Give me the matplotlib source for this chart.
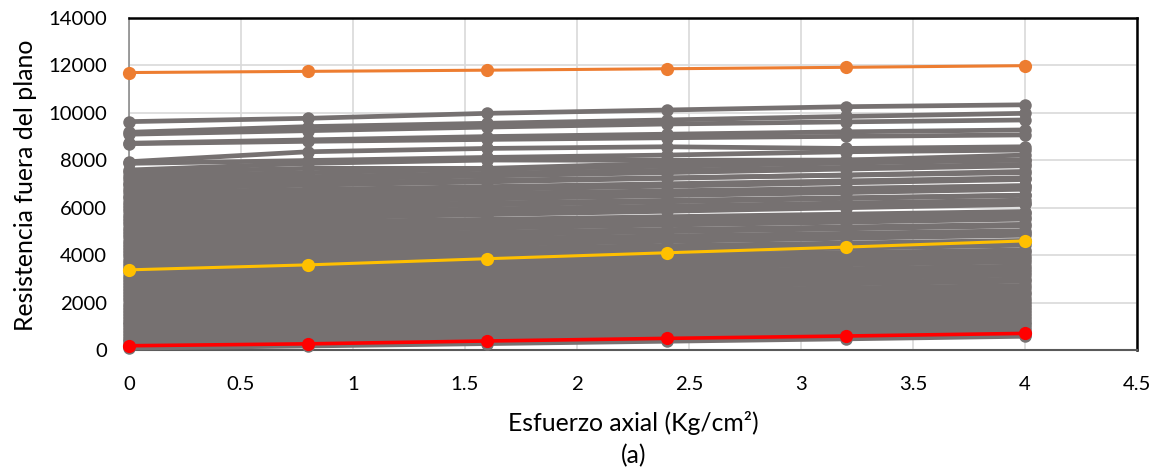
import matplotlib
matplotlib.use("Agg")
import matplotlib.pyplot as plt

plt.rcParams['font.family'] = ['Lato', 'DejaVu Sans']

# x positions (axial stress, kg/cm2)
esfuerzo = [0, 0.8, 1.6, 2.4, 3.2, 4.0]

# highlighted series
serie_naranja = [11700, 11750, 11800, 11860, 11920, 11990]
serie_amarilla = [3380, 3590, 3850, 4100, 4340, 4600]
serie_roja = [180, 260, 380, 490, 590, 700]

# upper, visibly separated grey series
gris_superior = [
    [9630, 9770, 9980, 10120, 10260, 10340],
    [9180, 9420, 9560, 9700, 9850, 9980],
    [9100, 9250, 9400, 9530, 9620, 9700],
    [8720, 8860, 9000, 9100, 9200, 9280],
    [8700, 8800, 8880, 8950, 9010, 9070],
    [7940, 8360, 8500, 8570, 8500, 8570],
    [7870, 7990, 8120, 8220, 8360, 8430],
    [7590, 7870, 8010, 8000, 8010, 8220],
    [7500, 7660, 7660, 7870, 8010, 8010],
]

# dense band of grey series
gris_banda = [
    [7350, 7480, 7620, 7750, 7880, 8010],
    [7200, 7310, 7450, 7580, 7700, 7830],
    [7050, 7200, 7340, 7480, 7630, 7770],
    [6950, 7050, 7160, 7260, 7370, 7480],
    [6800, 6950, 7090, 7240, 7380, 7530],
    [6650, 6770, 6890, 7010, 7130, 7260],
    [6500, 6640, 6770, 6910, 7050, 7190],
    [6400, 6500, 6610, 6710, 6820, 6930],
    [6250, 6380, 6520, 6650, 6790, 6920],
    [6100, 6240, 6370, 6510, 6640, 6780],
    [5980, 6090, 6200, 6310, 6420, 6530],
    [5850, 5980, 6120, 6250, 6390, 6520],
    [5700, 5820, 5950, 6070, 6200, 6320],
    [5560, 5690, 5810, 5940, 6060, 6190],
    [5420, 5560, 5710, 5850, 6000, 6140],
    [5300, 5410, 5510, 5620, 5730, 5840],
    [5150, 5270, 5400, 5520, 5640, 5770],
    [5020, 5140, 5250, 5370, 5490, 5610],
    [4880, 5010, 5140, 5270, 5390, 5520],
    [4750, 4860, 4970, 5080, 5190, 5300],
    [4600, 4730, 4860, 4990, 5110, 5240],
    [4480, 4590, 4700, 4810, 4920, 5030],
    [4340, 4460, 4580, 4700, 4820, 4940],
    [4200, 4330, 4450, 4580, 4710, 4840],
    [4080, 4190, 4290, 4400, 4510, 4620],
    [3950, 4070, 4180, 4300, 4420, 4540],
    [3800, 3920, 4050, 4170, 4290, 4420],
    [3670, 3780, 3890, 4000, 4110, 4220],
    [3540, 3660, 3780, 3900, 4010, 4130],
    [3400, 3510, 3630, 3740, 3850, 3970],
    [3280, 3390, 3500, 3610, 3720, 3830],
    [3140, 3260, 3370, 3490, 3600, 3720],
    [3000, 3110, 3220, 3330, 3430, 3540],
    [2880, 2990, 3100, 3210, 3320, 3430],
    [2740, 2850, 2950, 3060, 3170, 3270],
    [2610, 2720, 2830, 2940, 3050, 3160],
    [2480, 2580, 2680, 2790, 2890, 2990],
    [2350, 2460, 2570, 2680, 2790, 2900],
    [2220, 2320, 2420, 2520, 2620, 2720],
    [2090, 2200, 2300, 2410, 2510, 2620],
    [1960, 2060, 2160, 2260, 2360, 2460],
    [1830, 1930, 2040, 2140, 2250, 2350],
    [1700, 1800, 1900, 2000, 2100, 2200],
    [1580, 1680, 1780, 1880, 1980, 2080],
    [1450, 1550, 1650, 1750, 1850, 1950],
    [1320, 1420, 1510, 1610, 1700, 1800],
    [1200, 1300, 1400, 1500, 1600, 1700],
    [1080, 1170, 1270, 1360, 1460, 1550],
    [960, 1060, 1160, 1260, 1350, 1450],
    [840, 930, 1030, 1120, 1220, 1310],
    [720, 810, 910, 1000, 1100, 1190],
    [600, 700, 790, 890, 980, 1080],
    [480, 570, 670, 760, 860, 950],
    [370, 460, 560, 650, 750, 840],
    [260, 350, 440, 540, 630, 720],
    [150, 240, 340, 430, 530, 620],
    [80, 170, 270, 370, 470, 580],
]

x_ticks = [0, 0.5, 1, 1.5, 2, 2.5, 3, 3.5, 4, 4.5]
x_tick_labels = ["0", "0.5", "1", "1.5", "2", "2.5", "3", "3.5", "4", "4.5"]
y_ticks = [0, 2000, 4000, 6000, 8000, 10000, 12000, 14000]

GRIS = '#767171'
NARANJA = '#ED7D31'
AMARILLO = '#FFC000'
ROJO = '#FF0000'

fig = plt.figure(figsize=(11.6, 4.71), dpi=100)
ax = fig.add_axes([129/1160, 1 - 350/471, (1137-129)/1160, (350-18)/471])

for serie in gris_banda + gris_superior:
    ax.plot(esfuerzo, serie, color=GRIS, lw=3.4, marker='o', ms=9,
            markeredgewidth=0, clip_on=False, zorder=3,
            solid_capstyle='butt')

ax.plot(esfuerzo, serie_roja, color=ROJO, lw=2.6, marker='o', ms=9.5,
        markeredgewidth=0, clip_on=False, zorder=4)
ax.plot(esfuerzo, serie_amarilla, color=AMARILLO, lw=2.2, marker='o', ms=9.5,
        markeredgewidth=0, clip_on=False, zorder=4)
ax.plot(esfuerzo, serie_naranja, color=NARANJA, lw=2.2, marker='o', ms=9.5,
        markeredgewidth=0, clip_on=False, zorder=4)

ax.set_xlim(0, 4.5)
ax.set_ylim(0, 14000)
ax.set_xticks(x_ticks)
ax.set_xticklabels(x_tick_labels)
ax.set_yticks(y_ticks)
ax.tick_params(axis='both', length=0, labelsize=14, colors='black')
ax.tick_params(axis='x', pad=19)
ax.tick_params(axis='y', pad=16)

ax.grid(True, color='#d9d9d9', lw=1.2)
ax.set_axisbelow(True)

for side in ['top', 'right']:
    ax.spines[side].set_color('black')
    ax.spines[side].set_linewidth(1.8)
ax.spines['left'].set_color('#8c8c8c')
ax.spines['left'].set_linewidth(1.2)
ax.spines['bottom'].set_color('#595959')
ax.spines['bottom'].set_linewidth(1.5)

ylab = fig.text(26/1160, 1 - 185/471, 'Resistencia fuera del plano', rotation=90,
                ha='center', va='center', fontsize=14.5)
xlab = fig.text(633/1160, 1 - 423/471, 'Esfuerzo axial (Kg/cm²)',
                ha='center', va='center', fontsize=14.5)
alab = fig.text(634/1160, 1 - 456/471, '(a)', ha='center', va='center', fontsize=14.5)

# fit text sizes to the pixel extents measured on the reference
fig.canvas.draw()
renderer = fig.canvas.get_renderer()

def fit(txt, target, use_height=False):
    bb = txt.get_window_extent(renderer)
    cur = bb.height if use_height else bb.width
    txt.set_fontsize(txt.get_fontsize() * target / cur)

fit(ylab, 292, use_height=True)
fit(xlab, 250)
fit(alab, 25)

ylbl = [t for t in ax.get_yticklabels() if t.get_text() == '14000']
if ylbl:
    bb = ylbl[0].get_window_extent(renderer)
    size = 14 * 59 / bb.width
    ax.tick_params(axis='both', labelsize=size)

fig.savefig('out.png', dpi=100)
